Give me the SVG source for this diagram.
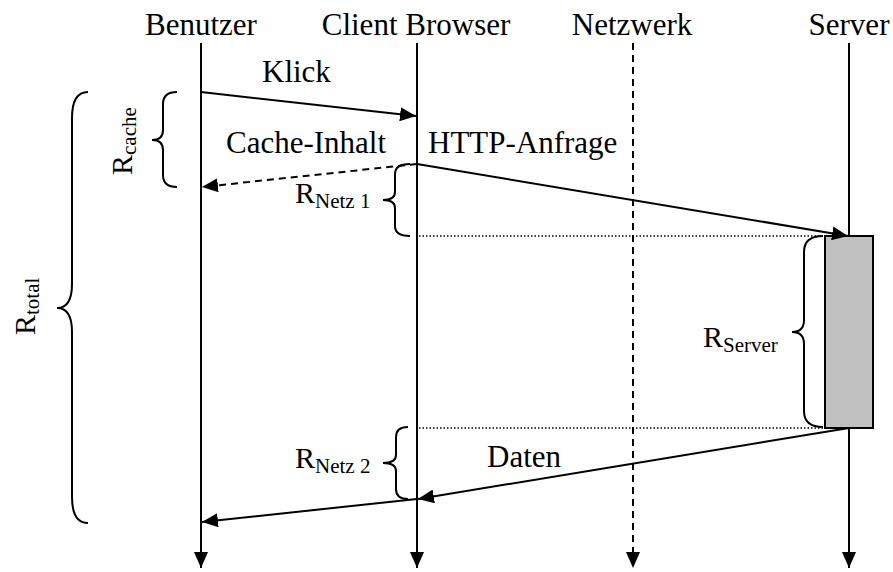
<svg xmlns="http://www.w3.org/2000/svg" width="893" height="572" viewBox="0 0 893 572">
  <style>
    text { font-family: "Liberation Serif", "Times New Roman", serif; fill: #000; }
    .title { font-size: 31px; text-anchor: middle; }
    .msg { font-size: 31px; }
    .r { font-size: 30px; }
    .sub { font-size: 21px; }
    .life { stroke: #000; stroke-width: 2; fill: none; }
    .dash { stroke-dasharray: 7 5; }
    .arrow { stroke: #000; stroke-width: 2; fill: none; }
    .dot { stroke: #000; stroke-width: 1.5; stroke-dasharray: 1.5 2; fill: none; }
    .brace { stroke: #000; stroke-width: 2; fill: none; }
  </style>
  <defs>
    <marker id="head" markerUnits="userSpaceOnUse" markerWidth="17" markerHeight="14" refX="16" refY="7" orient="auto">
      <path d="M0,0 L16,7 L0,14 z" fill="#000"/>
    </marker>
  </defs>

  <rect width="893" height="572" fill="#fff"/>

  <!-- lifelines -->
  <g id="benutzer">
    <text class="title" x="201" y="35">Benutzer</text>
    <line class="life" x1="201" y1="43" x2="201" y2="568" marker-end="url(#head)"/>
  </g>
  <g id="client-browser">
    <text class="title" x="416" y="35">Client Browser</text>
    <line class="life" x1="417" y1="43" x2="417" y2="568" marker-end="url(#head)"/>
  </g>
  <g id="netzwerk">
    <text class="title" x="632" y="35">Netzwerk</text>
    <line class="life dash" x1="633" y1="43" x2="633" y2="568" marker-end="url(#head)"/>
  </g>
  <g id="server">
    <text class="title" x="849" y="35">Server</text>
    <line class="life" x1="849" y1="43" x2="849" y2="568" marker-end="url(#head)"/>
    <rect x="825" y="236" width="48" height="192" fill="#c0c0c0" stroke="#000" stroke-width="2"/>
  </g>

  <!-- messages -->
  <g id="connectors">
    <line class="arrow" x1="201" y1="92" x2="416" y2="116" marker-end="url(#head)"/>
    <line class="arrow dash" x1="417" y1="164" x2="202" y2="187" marker-end="url(#head)"/>
    <line class="arrow" x1="417" y1="164" x2="848" y2="236" marker-end="url(#head)"/>
    <line class="arrow" x1="849" y1="428" x2="418" y2="499" marker-end="url(#head)"/>
    <line class="arrow" x1="417" y1="499" x2="202" y2="522" marker-end="url(#head)"/>
    <line class="dot" x1="419" y1="236" x2="824" y2="236"/>
    <line class="dot" x1="419" y1="428" x2="824" y2="428"/>
  </g>

  <g id="labels">
    <text class="msg" x="262" y="82">Klick</text>
    <text class="msg" x="226" y="153">Cache-Inhalt</text>
    <text class="msg" x="428" y="153">HTTP-Anfrage</text>
    <text class="msg" x="487" y="467">Daten</text>
  </g>

  <!-- response time braces -->
  <g id="r-cache">
    <path class="brace" d="M177,92 Q163,92 163,104 L163,130 Q163,140 152,140 Q163,140 163,150 L163,175 Q163,187 177,187"/>
    <text class="r" transform="translate(132,175) rotate(-90)">R<tspan class="sub" dy="4">cache</tspan></text>
  </g>
  <g id="r-total">
    <path class="brace" d="M88,92 Q72,92 72,118 L72,284 Q72,308 57,308 Q72,308 72,332 L72,497 Q72,523 88,523"/>
    <text class="r" transform="translate(35,335) rotate(-90)">R<tspan class="sub" dy="4">total</tspan></text>
  </g>
  <g id="r-netz1">
    <path class="brace" d="M410,164 Q395,164 395,174 L395,192 Q395,200 383,200 Q395,200 395,208 L395,226 Q395,236 410,236"/>
    <text class="r" x="295" y="203">R<tspan class="sub" dy="5">Netz 1</tspan></text>
  </g>
  <g id="r-server">
    <path class="brace" d="M823,236 Q804,236 804,252 L804,320 Q804,332 792,332 Q804,332 804,344 L804,411 Q804,427 823,427"/>
    <text class="r" x="703" y="347">R<tspan class="sub" dy="5">Server</tspan></text>
  </g>
  <g id="r-netz2">
    <path class="brace" d="M408,427 Q396,427 396,437 L396,455 Q396,463 383,463 Q396,463 396,471 L396,489 Q396,499 408,499"/>
    <text class="r" x="295" y="468">R<tspan class="sub" dy="5">Netz 2</tspan></text>
  </g>
</svg>
